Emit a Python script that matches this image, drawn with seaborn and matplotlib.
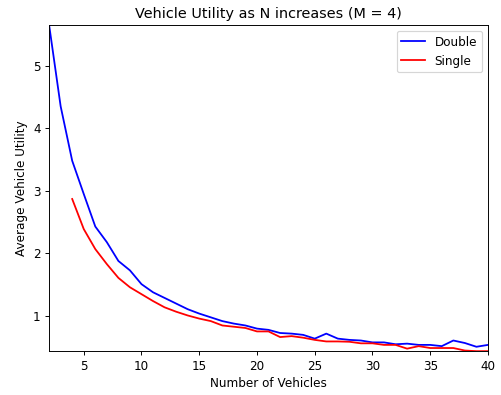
import matplotlib
matplotlib.use("Agg")
import matplotlib.pyplot as plt
import pandas as pd
import seaborn as sns

# Number of vehicles
n_double = list(range(2, 41))
n_single = list(range(4, 41))

# Average vehicle utility
double_util = [5.65, 4.35, 3.48, 2.95, 2.43, 2.18, 1.88, 1.73, 1.51, 1.38,
               1.29, 1.20, 1.11, 1.04, 0.98, 0.92, 0.88, 0.85, 0.80, 0.78,
               0.73, 0.72, 0.70, 0.64, 0.72, 0.64, 0.62, 0.61, 0.58, 0.58,
               0.55, 0.56, 0.54, 0.54, 0.52, 0.61, 0.57, 0.51, 0.54]
single_util = [2.87, 2.39, 2.07, 1.83, 1.61, 1.46, 1.35, 1.24, 1.14, 1.07,
               1.01, 0.96, 0.92, 0.85, 0.83, 0.81, 0.755, 0.755, 0.665, 0.68,
               0.655, 0.62, 0.595, 0.595, 0.59, 0.565, 0.565, 0.54, 0.54, 0.48,
               0.52, 0.49, 0.49, 0.49, 0.45, 0.44, 0.44]

df = pd.concat([
    pd.DataFrame({"N": n_double, "utility": double_util, "mode": "Double"}),
    pd.DataFrame({"N": n_single, "utility": single_util, "mode": "Single"}),
])

DPI = 86
fig, ax = plt.subplots(figsize=(501 / DPI, 395 / DPI), dpi=DPI)

sns.lineplot(
    data=df,
    x="N",
    y="utility",
    hue="mode",
    palette={"Double": "blue", "Single": "red"},
    linewidth=1.5,
    ax=ax,
)

ax.margins(0)
ax.set_title("Vehicle Utility as N increases (M = 4)")
ax.set_xlabel("Number of Vehicles")
ax.set_ylabel("Average Vehicle Utility")
ax.legend(loc="upper right")

plt.subplots_adjust(left=0.098, right=0.974, top=0.937, bottom=0.111)
plt.savefig("out.png", dpi=DPI)
plt.close()
